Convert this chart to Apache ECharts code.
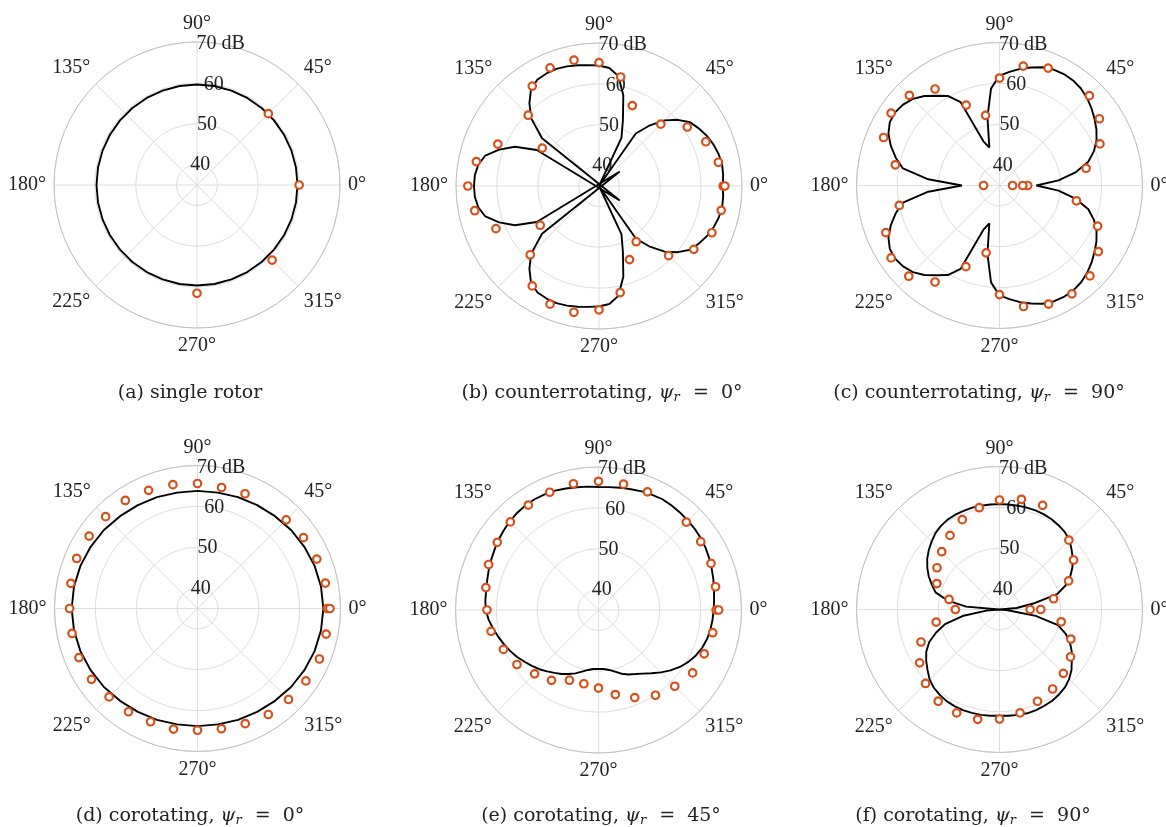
<!DOCTYPE html>
<html>
<head>
<meta charset="utf-8">
<script src="https://cdn.jsdelivr.net/npm/echarts@6/dist/echarts.min.js"></script>
<style>
  html, body { margin: 0; padding: 0; background: #fff; }
  #chart { width: 1166px; height: 827px; }
</style>
</head>
<body>
<div id="chart"></div>
<script>
// Model curves (dB), sampled on a uniform angle grid starting at 0°, step = 360 / length
const singleRotorModel = [
  59.6, 59.6, 59.6, 59.6, 59.6, 59.6, 59.6, 59.6, 59.6, 59.6, 59.6, 59.6,
  59.6, 59.6, 59.6, 59.6, 59.6, 59.6, 59.6, 59.6, 59.6, 59.6, 59.6, 59.6,
  59.6, 59.6, 59.6, 59.6, 59.6, 59.6, 59.6, 59.6, 59.6, 59.6, 59.6, 59.6
];
const counterPsi0Model = [
  65.3, 65.5, 65.6, 65.3, 64.8, 64.1, 63.2, 62.2, 60.2, 57.7, 54.4, 50.7,
  35.0, 48.0, 52.1, 58.0, 62.3, 64.0, 64.5, 64.7, 65.0, 65.3, 65.5, 65.4,
  65.1, 64.0, 61.5, 58.5, 53.2, 28.8, 52.6, 57.7, 61.0, 63.8, 65.0, 65.5,
  65.6, 65.5, 65.0, 63.8, 61.0, 57.7, 52.6, 28.8, 53.2, 58.5, 61.5, 64.0,
  65.1, 65.4, 65.5, 65.3, 65.0, 64.7, 64.5, 64.0, 62.3, 58.0, 52.1, 48.0,
  35.0, 50.7, 54.4, 57.7, 60.2, 62.2, 63.2, 64.1, 64.8, 65.3, 65.6, 65.5
];
const counterPsi90Model = [
  44.0, 49.5, 54.0, 57.5, 59.6, 61.2, 62.4, 63.4, 64.4, 65.3, 66.0, 66.4,
  66.5, 66.3, 65.8, 64.9, 64.0, 62.9, 61.9, 58.8, 52.0, 44.6, 46.5, 57.5,
  60.3, 61.8, 63.6, 65.0, 65.8, 66.2, 66.0, 65.0, 63.3, 61.3, 59.0, 52.5,
  44.2, 52.5, 59.0, 61.3, 63.3, 65.0, 66.0, 66.2, 65.8, 65.0, 63.6, 61.8,
  60.3, 57.5, 46.5, 44.6, 52.0, 58.8, 61.9, 62.9, 64.0, 64.9, 65.8, 66.3,
  66.5, 66.4, 66.0, 65.3, 64.4, 63.4, 62.4, 61.2, 59.6, 57.5, 54.0, 49.5
];
const coPsi0Model = [
  65.8, 65.7, 65.5, 65.2, 64.9, 64.5, 64.2, 64.0, 63.8, 63.8, 63.8, 64.0,
  64.2, 64.5, 64.9, 65.2, 65.5, 65.7, 65.8, 65.7, 65.5, 65.2, 64.9, 64.5,
  64.2, 64.0, 63.8, 63.8, 63.8, 64.0, 64.2, 64.5, 64.9, 65.2, 65.5, 65.7
];
const coPsi45Model = [
  63.2, 63.4, 63.7, 64.1, 64.5, 64.9, 65.3, 65.6, 65.8, 65.9, 66.1, 66.2,
  66.3, 66.1, 65.9, 65.6, 65.4, 65.2, 65.1, 65.3, 65.5, 65.8, 66.1, 66.2,
  66.3, 66.2, 66.0, 65.7, 65.3, 64.9, 64.4, 64.0, 63.6, 63.2, 62.9, 62.8,
  62.6, 62.0, 61.2, 60.4, 59.6, 58.8, 58.0, 57.1, 56.3, 55.5, 54.6, 53.8,
  53.1, 52.3, 51.5, 50.6, 49.9, 49.5, 49.4, 49.5, 49.9, 50.6, 51.6, 52.4,
  53.1, 54.0, 55.2, 56.6, 58.0, 59.3, 60.4, 61.3, 62.0, 62.5, 62.8, 63.0
];
const coPsi90Model = [
  35.0, 39.2, 43.4, 49.6, 52.2, 54.1, 55.6, 56.9, 58.0, 59.2, 59.8, 60.2,
  60.5, 60.7, 60.8, 60.8, 60.8, 60.8, 60.8, 60.8, 60.8, 60.8, 60.7, 60.6,
  60.4, 60.0, 59.4, 58.5, 57.6, 56.6, 55.4, 54.1, 52.6, 51.2, 48.0, 43.2,
  35.0, 38.2, 44.2, 48.8, 51.5, 54.0, 55.7, 56.9, 58.0, 59.2, 60.0, 60.5,
  60.9, 61.1, 61.2, 61.2, 61.2, 61.1, 61.0, 61.1, 61.2, 61.3, 61.2, 61.0,
  60.8, 60.4, 59.9, 59.1, 58.0, 56.6, 55.4, 54.0, 52.2, 49.8, 44.0, 37.0
];

// Microphone positions (deg) and measured levels (dB)
const singleRotorMicAngles = [0, 45, 270, 315];
const singleRotorMeasured = [60.0, 59.7, 61.5, 61.0];

const micAngles = [
  0, 11.25, 22.5, 33.75, 45, 67.5, 78.75, 90, 101.25, 112.5, 123.75, 135,
  146.25, 157.5, 168.75, 180, 191.25, 202.5, 213.75, 225, 236.25, 247.5,
  258.75, 270, 281.25, 292.5, 303.75, 315, 326.25, 337.5, 348.75, 360
];
const counterPsi0Measured = [
  65.4, 64.8, 63.3, 61.0, 56.4, 56.3, 62.2, 65.2, 66.4, 66.3, 64.4, 59.5,
  51.7, 61.8, 65.6, 67.1, 66.0, 62.3, 52.3, 58.8, 64.4, 66.3,
  66.5, 65.3, 61.6, 54.5, 51.4, 59.1, 62.9, 64.9, 65.5, 65.8
];
const counterPsi90MicAngles = micAngles.concat([0]);
const counterPsi90Measured = [
  41.9, 56.6, 61.6, 64.4, 66.1, 66.1, 64.8, 61.3, 52.5, 56.3, 63.4, 66.2,
  66.9, 65.7, 61.0, 38.9, 60.0, 65.1, 66.9, 66.4, 63.4, 56.5,
  51.8, 61.7, 65.2, 66.4, 66.9, 66.3, 64.1, 61.0, 54.2, 40.7,
  38.2
];
const coPsi0Measured = [
  66.8, 66.9, 66.6, 66.2, 65.7, 65.4, 65.2, 65.6, 65.9, 66.3, 66.8, 66.8,
  66.9, 67.0, 66.6, 66.3, 66.3, 66.4, 66.2, 65.6, 65.4, 65.0,
  65.1, 64.8, 65.0, 65.5, 66.2, 66.5, 66.9, 67.3, 67.1, 67.4
];
const coPsi45Measured = [
  63.8, 64.2, 64.8, 65.1, 65.4, 66.3, 66.4, 66.5, 66.5, 66.2, 65.9, 65.5,
  64.8, 64.1, 63.1, 62.3, 61.8, 60.2, 59.0, 57.1, 55.7, 53.6,
  53.4, 54.1, 56.1, 58.2, 60.1, 61.4, 62.7, 63.0, 63.5, 64.4
];
const coPsi90Measured = [
  42.5, 48.5, 53.3, 56.8, 59.0, 62.6, 62.5, 61.8, 60.4, 58.8, 56.8, 55.0,
  53.4, 51.6, 47.6, 45.8, 50.8, 55.8, 58.5, 60.6, 62.0, 62.4,
  62.4, 61.8, 60.8, 59.3, 58.4, 57.1, 55.9, 53.9, 50.4, 45.1
];

// Radial axis: range and ring labels
const radialMin = 35;
const radialMax = 70;
const ringValues = [40, 50, 60, 70];
const ringLabels = ['40', '50', '60', '70 dB'];
const ringLabelAngle = 80.5;

// Subplot captions
const captions = [
  '(a) single rotor',
  '(b) counterrotating, {m|ψ}{s|r}  =  0°',
  '(c) counterrotating, {m|ψ}{s|r}  =  90°',
  '(d) corotating, {m|ψ}{s|r}  =  0°',
  '(e) corotating, {m|ψ}{s|r}  =  45°',
  '(f) corotating, {m|ψ}{s|r}  =  90°'
];

const panels = [
  { model: singleRotorModel, angles: singleRotorMicAngles, measured: singleRotorMeasured },
  { model: counterPsi0Model, angles: micAngles, measured: counterPsi0Measured },
  { model: counterPsi90Model, angles: counterPsi90MicAngles, measured: counterPsi90Measured },
  { model: coPsi0Model, angles: micAngles, measured: coPsi0Measured },
  { model: coPsi45Model, angles: micAngles, measured: coPsi45Measured },
  { model: coPsi90Model, angles: micAngles, measured: coPsi90Measured }
];

// Page layout (pixels)
const R = 143;
const layout = [
  { c: [197, 185],     cap: [190, 393] },
  { c: [599, 186],     cap: [602, 393] },
  { c: [999.5, 185.5], cap: [979, 393] },
  { c: [197.5, 608.5], cap: [190, 816] },
  { c: [598.5, 610],   cap: [601, 816] },
  { c: [999.5, 609.5], cap: [973, 816] }
];

const SERIF = 'Liberation Serif';
const CAPTION_FONT = 'DejaVu Serif';
const TEXT = '#222222';
const MARKER = '#D6501A';

function modelPoints(vals) {
  const step = 360 / vals.length;
  const pts = vals.map((v, i) => [v, i * step]);
  pts.push([vals[0], 360]);
  return pts;
}

const polar = [], angleAxis = [], radiusAxis = [], series = [], graphic = [];

panels.forEach((p, i) => {
  const L = layout[i];
  polar.push({ center: L.c, radius: [0, R] });
  angleAxis.push({
    polarIndex: i, type: 'value', min: 0, max: 360, interval: 45,
    startAngle: 0, clockwise: false,
    axisLine: { lineStyle: { color: '#c2c2c2', width: 1 } },
    axisTick: { show: false },
    splitLine: { show: true, lineStyle: { color: '#dedede', width: 1 } },
    axisLabel: {
      margin: 8, formatter: v => v + '°',
      fontFamily: SERIF, fontSize: 20, color: TEXT
    }
  });
  radiusAxis.push({
    polarIndex: i, type: 'value', min: radialMin, max: radialMax, interval: 5,
    axisLine: { show: false }, axisTick: { show: false }, axisLabel: { show: false },
    splitLine: { show: true, lineStyle: { color: ['rgba(0,0,0,0)', '#dedede'], width: 1 } }
  });

  // ring labels placed through the polar scales
  series.push({
    type: 'scatter', coordinateSystem: 'polar', polarIndex: i, silent: true,
    symbol: 'circle', symbolSize: 1, itemStyle: { color: 'rgba(0,0,0,0)' },
    data: ringValues.map((v, k) => ({ value: [v, ringLabelAngle], label: { formatter: ringLabels[k] } })),
    label: {
      show: true, position: 'inside', fontFamily: SERIF, fontSize: 20,
      color: TEXT, opacity: 1, textBorderWidth: 0, textBorderColor: 'transparent'
    },
    z: 1, animation: false
  });

  series.push({
    type: 'line', coordinateSystem: 'polar', polarIndex: i,
    data: modelPoints(p.model), symbol: 'none', showSymbol: false,
    lineStyle: { color: '#000', width: 1.9 }, clip: false, z: 3, animation: false
  });

  series.push({
    type: 'scatter', coordinateSystem: 'polar', polarIndex: i,
    data: p.angles.map((a, k) => [p.measured[k], a]),
    symbol: 'circle', symbolSize: 7.5,
    itemStyle: { color: '#fff', borderColor: MARKER, borderWidth: 2.2, opacity: 1 },
    z: 4, animation: false
  });

  graphic.push({
    type: 'text', x: L.cap[0], y: L.cap[1], silent: true,
    style: {
      text: captions[i], align: 'center', verticalAlign: 'middle',
      fontFamily: CAPTION_FONT, fontSize: 19, fill: TEXT,
      rich: {
        m: { fontFamily: CAPTION_FONT, fontSize: 19, fontStyle: 'italic', fill: TEXT },
        s: { fontFamily: CAPTION_FONT, fontSize: 13, fontStyle: 'italic', fill: TEXT, verticalAlign: 'bottom', padding: [9, 1, 0, 0] }
      }
    }
  });
});

const chart = echarts.init(document.getElementById('chart'), null, { renderer: 'canvas' });
chart.setOption({
  animation: false,
  backgroundColor: '#fff',
  polar, angleAxis, radiusAxis, series, graphic
});
</script>
</body>
</html>
